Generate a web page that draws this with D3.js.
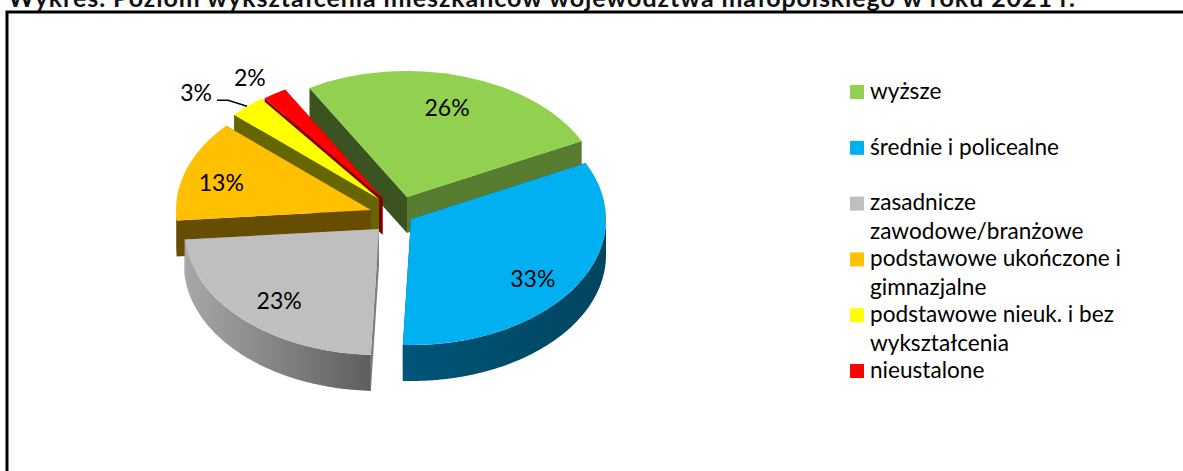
<!DOCTYPE html>
<html lang="pl">
<head>
<meta charset="utf-8">
<title>Poziom wykształcenia</title>
<script src="https://cdn.jsdelivr.net/npm/d3@7"></script>
<style>
  body { margin: 0; background: #fff; }
  svg { display: block; font-family: Lato, "Noto Sans", sans-serif; }
</style>
</head>
<body>
<div id="chart"></div>
<script>
  'use strict';

  // data
  var categories = ['wyższe', 'średnie i policealne', 'zasadnicze zawodowe/branżowe',
    'podstawowe ukończone i gimnazjalne', 'podstawowe nieuk. i bez wykształcenia', 'nieustalone'];
  var values = [26, 33, 23, 13, 3, 2];
  var colors = ['#92d050', '#00b0f0', '#bfbfbf', '#ffc000', '#ffff00', '#ff0000'];
  var legendLines = [['wyższe'], ['średnie i policealne'], ['zasadnicze', 'zawodowe/branżowe'],
    ['podstawowe ukończone i', 'gimnazjalne'], ['podstawowe nieuk. i bez', 'wykształcenia'], ['nieustalone']];
  var title = 'Wykres. Poziom wykształcenia mieszkańców województwa małopolskiego w roku 2021 r.';

  // layout
  var width = 1183, height = 471;
  var rx = 195, ry = 126, depth = 36;
  var cx = 393, cy = 213;
  var rad = Math.PI / 180;
  var startAngle = -30 * rad;
  // how far each slice is pulled out of the pie
  var shift = [[14, -16], [18, 6], [-14, 16], [-22, -3], [-14, -14], [-10.5, -14.5]];
  // label position as a fraction of the radius, per slice
  var labelK = [[0.71, 0.74], [0.745, 0.87], [0.74, 0.79], [0.81, 0.67], [1.386, 1.14], [1.23, 1.15]];
  var drawOrder = [0, 5, 4, 3, 1, 2];
  var cutShade = { 0: [0.4, 0.6], 1: [0.4, 0.4], 2: [0.65, 0.65], 3: [0.4, 0.4], 4: [0.4, 0.4], 5: [0.5, 0.5] };

  var color = d3.scaleOrdinal().domain(categories).range(colors);

  var svg = d3.select('#chart').append('svg')
      .attr('width', width)
      .attr('height', height);

  var defs = svg.append('defs');

  function shade(c, k) {
    var o = d3.rgb(c);
    return d3.rgb(o.r * k, o.g * k, o.b * k).formatHex();
  }

  function gradient(id, x1, x2, from, to) {
    var g = defs.append('linearGradient')
        .attr('id', id)
        .attr('gradientUnits', 'userSpaceOnUse')
        .attr('x1', x1).attr('x2', x2)
        .attr('y1', 0).attr('y2', 0);
    g.append('stop').attr('offset', 0).attr('stop-color', from);
    g.append('stop').attr('offset', 1).attr('stop-color', to);
  }

  // title, cut by the top of the picture like in the scan
  svg.append('text')
      .attr('x', 8)
      .attr('y', 7)
      .attr('textLength', 1067)
      .attr('lengthAdjust', 'spacing')
      .style('font-size', '25px')
      .style('font-weight', 'bold')
      .style('fill', '#111')
      .text(title);

  // frame
  svg.append('path')
      .attr('d', d3.line()([[7, height], [7, 12], [width, 12]]))
      .style('fill', 'none')
      .style('stroke', '#000')
      .style('stroke-width', 3);

  var pie = d3.pie()
      .sort(null)
      .startAngle(startAngle)
      .endAngle(startAngle + 2 * Math.PI);

  var arcs = pie(values);
  var arc = d3.arc().innerRadius(0).outerRadius(rx);
  var line = d3.line();

  function apex(i) { return [cx + shift[i][0], cy + shift[i][1]]; }

  function onRim(i, a, k) {
    var p = apex(i);
    return [p[0] + rx * k * Math.sin(a), p[1] - ry * k * Math.cos(a)];
  }

  function cutFace(i, a) {
    var p = apex(i), q = onRim(i, a, 1);
    return line([p, q, [q[0], q[1] + depth], [p[0], p[1] + depth]]) + 'Z';
  }

  // outer wall, only the part facing the viewer
  function rimWall(i) {
    var a0 = Math.max(arcs[i].startAngle, Math.PI / 2),
        a1 = Math.min(arcs[i].endAngle, 3 * Math.PI / 2);
    if (a1 <= a0) { return null; }
    var top = d3.range(a0, a1, 0.02).concat(a1).map(function (a) { return onRim(i, a, 1); });
    var bottom = top.map(function (p) { return [p[0], p[1] + depth]; }).reverse();
    return line(top.concat(bottom)) + 'Z';
  }

  gradient('wall1', apex(1)[0] - 8, apex(1)[0] + rx, '#005578', '#00455f');
  gradient('wall2', apex(2)[0] - rx, apex(2)[0] - 8, '#a8a8a8', '#5e5e5e');
  gradient('wall3', apex(3)[0] - rx, apex(3)[0], '#664f00', '#664f00');

  var pieG = svg.append('g');

  drawOrder.forEach(function (i) {
    var d = arcs[i], c = color(categories[i]), p = apex(i);
    var g = pieG.append('g').attr('class', 'slice');

    // side faces of the cuts
    g.append('path')
        .attr('d', cutFace(i, d.startAngle))
        .style('fill', shade(c, cutShade[i][0]));
    g.append('path')
        .attr('d', cutFace(i, d.endAngle))
        .style('fill', shade(c, cutShade[i][1]));

    var wall = rimWall(i);
    if (wall) {
      g.append('path')
          .attr('d', wall)
          .style('fill', 'url(#wall' + i + ')');
    }

    // top
    g.append('path')
        .attr('d', arc(d))
        .attr('transform', 'translate(' + p[0] + ',' + p[1] + ') scale(1,' + ry / rx + ')')
        .style('fill', c);
  });

  // leader line of the 3% label
  var yellow = arcs[4];
  var rimPoint = onRim(4, (yellow.startAngle + yellow.endAngle) / 2, 1);
  svg.append('path')
      .attr('d', line([[rimPoint[0] - 30, rimPoint[1] - 6], [rimPoint[0] - 19, rimPoint[1] - 6], rimPoint]))
      .style('fill', 'none')
      .style('stroke', '#000')
      .style('stroke-width', 1.4);

  // data labels
  svg.append('g').selectAll('text')
      .data(arcs)
      .enter().append('text')
      .attr('x', function (d, i) { return apex(i)[0] + rx * labelK[i][0] * Math.sin((d.startAngle + d.endAngle) / 2); })
      .attr('y', function (d, i) { return apex(i)[1] - ry * labelK[i][1] * Math.cos((d.startAngle + d.endAngle) / 2); })
      .attr('dy', '0.35em')
      .style('text-anchor', 'middle')
      .style('font-size', '23px')
      .style('fill', '#000')
      .text(function (d) { return d.value + '%'; });

  // legend
  var legendX = 850, legendY = 92, legendStep = 55.8, lineStep = 29;
  var legend = svg.append('g').selectAll('g')
      .data(categories)
      .enter().append('g')
      .attr('transform', function (d, i) { return 'translate(' + legendX + ',' + (legendY + i * legendStep) + ')'; });

  legend.append('rect')
      .attr('y', -7)
      .attr('width', 14)
      .attr('height', 14)
      .style('fill', function (d) { return color(d); });

  legend.selectAll('text')
      .data(function (d, i) { return legendLines[i]; })
      .enter().append('text')
      .attr('x', 20)
      .attr('y', function (d, i) { return i * lineStep; })
      .attr('dy', '0.3em')
      .style('font-size', '22.6px')
      .style('fill', '#000')
      .text(function (d) { return d; });
</script>
</body>
</html>
